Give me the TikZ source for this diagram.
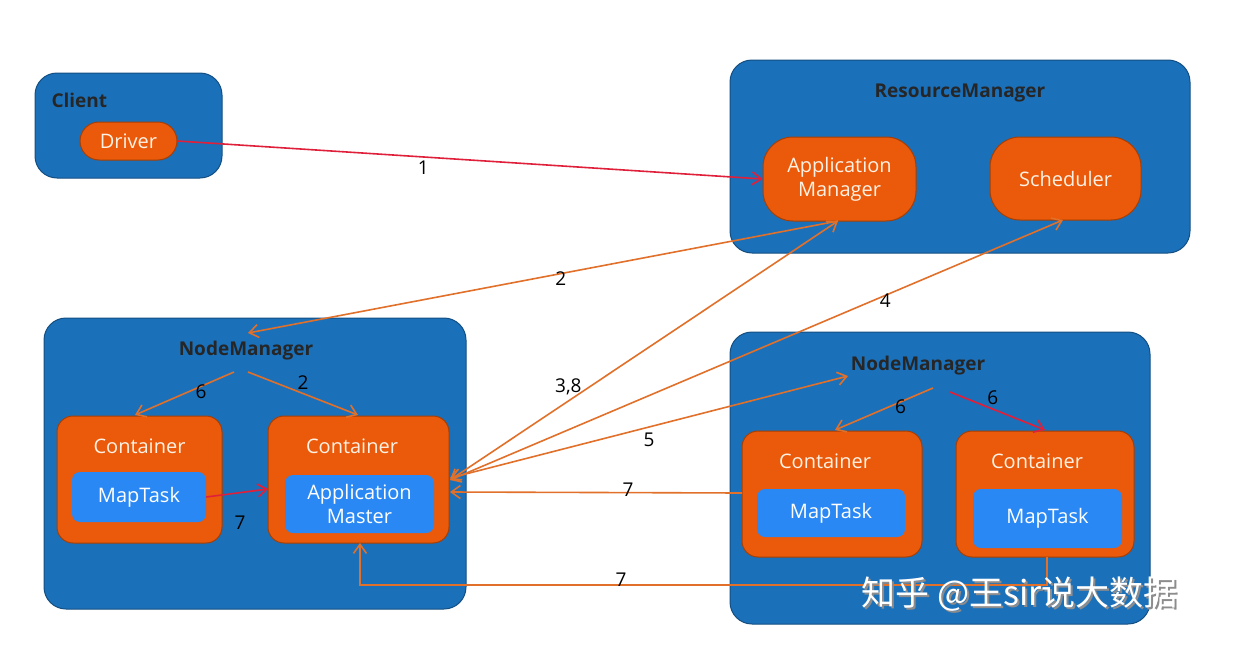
\documentclass[tikz,border=0pt]{standalone}
\usepackage{fontspec}
\setmainfont{Open Sans}
\newfontfamily\cjk{Noto Sans CJK SC}
\usetikzlibrary{arrows.meta}
\definecolor{boxblue}{HTML}{1B70BA}
\definecolor{taskorange}{HTML}{EA5A0A}
\definecolor{taskblue}{HTML}{2A88F4}
\definecolor{linkorange}{HTML}{E0702A}
\definecolor{linkred}{HTML}{E0203A}
\tikzset{
  host/.style={draw=boxblue!70!black, fill=boxblue, rounded corners=22pt, line width=1pt},
  part/.style={draw=taskorange!70!black, fill=taskorange, rounded corners=16pt, line width=1pt,
    text=white!90!orange, font=\fontsize{20}{24}\selectfont, align=center, inner sep=0pt},
  task/.style={fill=taskblue, rounded corners=8pt, text=white, font=\fontsize{20}{24}\selectfont,
    align=center, inner sep=0pt},
  title/.style={font=\bfseries\fontsize{19}{22}\selectfont, text=black!85},
  link/.style={draw=linkorange, line width=1.6pt, -{Straight Barb[length=9pt,width=13pt]}},
  both/.style={link, {Straight Barb[length=9pt,width=13pt]}-{Straight Barb[length=9pt,width=13pt]}},
  hot/.style={link, draw=linkred},
  num/.style={font=\fontsize{19}{22}\selectfont, text=black},
  wmark/.style={font=\cjk\fontsize{34}{38}\selectfont, anchor=west}
}
\begin{document}
\begin{tikzpicture}[x=1pt, y=-1pt]
    \useasboundingbox (0,0) rectangle (1239,645);

    % hosts
    \draw[host] (35,73) rectangle (222,178);
    \node[title, anchor=west] (client) at (48,100) {Client};
    \draw[host] (730,60) rectangle (1190,253);
    \node[title] (rm) at (960,93) {ResourceManager};
    \draw[host] (44,318) rectangle (466,609);
    \node[title] (nmA) at (246,351) {NodeManager};
    \draw[host] (730,332) rectangle (1150,624);
    \node[title] (nmB) at (918,366) {NodeManager};

    % parts inside the hosts
    \node[part, minimum width=97pt, minimum height=38pt, rounded corners=19pt] (driver) at (128.5,141) {Driver};
    \node[part, minimum width=153pt, minimum height=84pt, rounded corners=30pt] (appman) at (839.5,179) {Application\\Manager};
    \node[part, minimum width=151pt, minimum height=83pt, rounded corners=30pt] (sched) at (1065.5,178.5) {Scheduler};

    \draw[part] (57,416) rectangle (222,543);
    \node[part, draw=none, fill=none] (contA) at (139.5,446) {Container};
    \node[task, minimum width=134pt, minimum height=50pt] (taskA) at (139,497) {MapTask};
    \draw[part] (268,416) rectangle (449,543);
    \node[part, draw=none, fill=none] (contB) at (352,446) {Container};
    \node[task, minimum width=149pt, minimum height=58pt] (master) at (359.5,504) {Application\\Master};

    \draw[part] (742,431) rectangle (922,557);
    \node[part, draw=none, fill=none] (contC) at (825,461) {Container};
    \node[task, minimum width=148pt, minimum height=48pt] (taskC) at (831,513) {MapTask};
    \draw[part] (956,431) rectangle (1134,557);
    \node[part, draw=none, fill=none] (contD) at (1037,461) {Container};
    \node[task, minimum width=149pt, minimum height=59pt] (taskD) at (1047.5,518.5) {MapTask};

    % connector ends
    \coordinate (amBot) at (838,221);
    \coordinate (schBot) at (1063,220);
    \coordinate (nmAin) at (248,333);
    \coordinate (nmAl) at (234,372);
    \coordinate (nmAr) at (248,372);
    \coordinate (cAtop) at (135,415);
    \coordinate (cBtop) at (358,415);
    \coordinate (cBl) at (268,489);
    \coordinate (cBr) at (450,480);
    \coordinate (cBm) at (450,492);
    \coordinate (cBbot) at (360,543);
    \coordinate (nmBin) at (848,376);
    \coordinate (nmBl) at (933,388);
    \coordinate (nmBr) at (950,392);
    \coordinate (cCtop) at (835,430);
    \coordinate (cDtop) at (1045,430);
    \coordinate (cCl) at (742,493);
    \coordinate (cDbot) at (1047,557);

    % connectors
    \draw[hot] (driver.east) -- (appman.west) node[num, pos=0.42, below] {1};
    \draw[link] (amBot) -- (nmAin) node[num, pos=0.47, below=-6pt] {2};
    \draw[link] (nmAl) -- (cAtop) node[num, pos=0.45, right=2pt] {6};
    \draw[link] (nmAr) -- (cBtop) node[num, pos=0.5, above] {2};
    \draw[hot] (taskA.east) -- (cBl);
    \node[num] (seven) at (240,523) {7};
    \draw[both] (cBr) -- (amBot) node[num, pos=0.36, left=4pt] {3,8};
    \draw[both] (cBr) -- (schBot) node[num, pos=0.71, below=-6pt] {4};
    \draw[both] ([yshift=2pt]cBr) -- (nmBin) node[num, pos=0.5, below=2pt] {5};
    \draw[link] (cCl) -- (cBm) node[num, pos=0.39, above=-8pt] {7};
    \draw[link] (cDbot) -- ++(0,28) -| (cBbot) node[num, pos=0.31, above=-6pt] {7};
    \draw[link] (nmBl) -- (cCtop) node[num, pos=0.45, right=2pt] {6};
    \draw[hot] (nmBr) -- (cDtop) node[num, pos=0.45, above] {6};

    % watermark
    \node[wmark, text=black!45] (shade) at (860,596) {知乎 @王sir说大数据};
    \node[wmark, text=white] (mark) at (858,594) {知乎 @王sir说大数据};
\end{tikzpicture}
\end{document}
